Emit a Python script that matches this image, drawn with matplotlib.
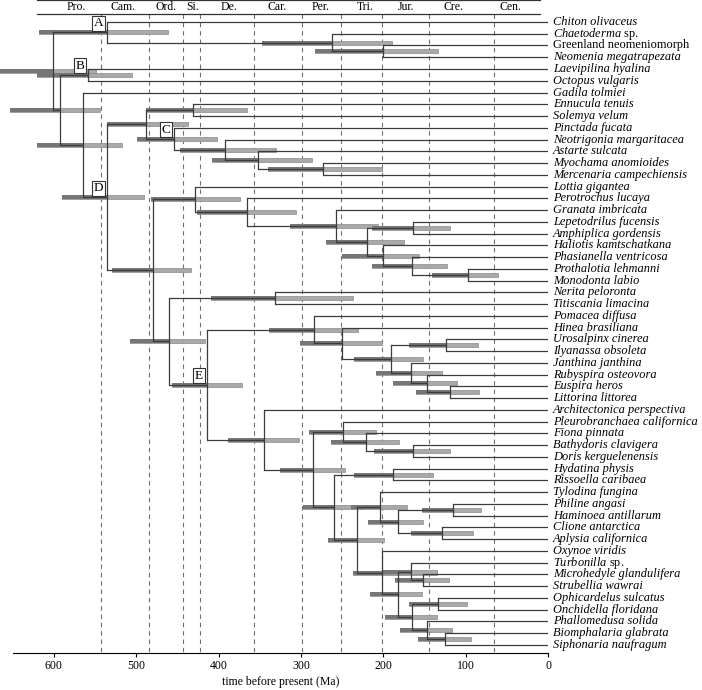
import matplotlib
matplotlib.use('Agg')
import matplotlib.pyplot as plt
from matplotlib.patches import Rectangle

plt.rcParams['font.family'] = ['Liberation Serif', 'DejaVu Serif']
plt.rcParams['mathtext.fontset'] = 'custom'
plt.rcParams['mathtext.it'] = 'Liberation Serif:italic'
plt.rcParams['mathtext.rm'] = 'Liberation Serif'

# tip labels, top to bottom
taxa = ['Chiton olivaceus', r'$\mathit{Chaetoderma}$ sp.', 'Greenland neomeniomorph',
        'Neomenia megatrapezata', 'Laevipilina hyalina', 'Octopus vulgaris', 'Gadila tolmiei',
        'Ennucula tenuis', 'Solemya velum', 'Pinctada fucata', 'Neotrigonia margaritacea',
        'Astarte sulcata', 'Myochama anomioides', 'Mercenaria campechiensis', 'Lottia gigantea',
        'Perotrochus lucaya', 'Granata imbricata', 'Lepetodrilus fucensis', 'Amphiplica gordensis',
        'Haliotis kamtschatkana', 'Phasianella ventricosa', 'Prothalotia lehmanni',
        'Monodonta labio', 'Nerita peloronta', 'Titiscania limacina', 'Pomacea diffusa',
        'Hinea brasiliana', 'Urosalpinx cinerea', 'Ilyanassa obsoleta', 'Janthina janthina',
        'Rubyspira osteovora', 'Euspira heros', 'Littorina littorea', 'Architectonica perspectiva',
        'Pleurobranchaea californica', 'Fiona pinnata', 'Bathydoris clavigera',
        'Doris kerguelenensis', 'Hydatina physis', 'Rissoella caribaea', 'Tylodina fungina',
        'Philine angasi', 'Haminoea antillarum', 'Clione antarctica', 'Aplysia californica',
        'Oxynoe viridis', r'$\mathit{Turbonilla}$ sp.', 'Microhedyle glandulifera',
        'Strubellia wawrai', 'Ophicardelus sulcatus', 'Onchidella floridana',
        'Phallomedusa solida', 'Biomphalaria glabrata', 'Siphonaria naufragum']
upright = ['Greenland neomeniomorph']

# internal nodes: children (int = tip index), age and 95% interval (Ma)
node_names = ['root', 'A', 'aplac', 'GN', 'conch', 'B', 'gad', 'D', 'biv', 'proto', 'C',
              'hetc', 'ast', 'myo', 'gast', 'lotvet', 'vet', 'gra', 'lephal', 'lepamp', 'hal',
              'pha', 'tro', 'neriapo', 'neri', 'E', 'caeno', 'hin', 'neo', 'nas', 'jan', 'rub',
              'eus', 'hetb', 'h469', 'pleu', 'nud', 'dor', 'h507', 'hyd', 'h540', 'tyl', 'h522',
              'phi', 'cli', 'h573', 'h594', 'tur', 'mic', 'h617', 'oph', 'pha2', 'bio']
node_children = [('A', 'conch'), (0, 'aplac'), (1, 'GN'), (2, 3), ('B', 'gad'), (4, 5),
                 (6, 'D'), ('biv', 'gast'), ('proto', 'C'), (7, 8), (9, 'hetc'), (10, 'ast'),
                 (11, 'myo'), (12, 13), ('lotvet', 'neriapo'), (14, 'vet'), (15, 'gra'),
                 (16, 'lephal'), ('lepamp', 'hal'), (17, 18), (19, 'pha'), (20, 'tro'), (21, 22),
                 ('neri', 'E'), (23, 24), ('caeno', 'hetb'), (25, 'hin'), (26, 'neo'),
                 ('nas', 'jan'), (27, 28), (29, 'rub'), (30, 'eus'), (31, 32), (33, 'h469'),
                 ('pleu', 'h507'), (34, 'nud'), (35, 'dor'), (36, 37), ('hyd', 'h540'), (38, 39),
                 ('tyl', 'h573'), (40, 'h522'), ('phi', 'cli'), (41, 42), (43, 44), (45, 'h594'),
                 ('tur', 'h617'), (46, 'mic'), (47, 48), ('oph', 'pha2'), (49, 50), (51, 'bio'),
                 (52, 53)]
node_age = [601, 536, 262, 200, 593, 558, 564, 536, 488, 431, 454, 392, 352, 273, 479, 428,
            366, 257, 220, 164, 200, 165, 97, 460, 331, 414, 284, 250, 191, 124, 166, 147, 119,
            345, 285, 249, 221, 164, 260, 188, 232, 204, 182, 115, 129, 201, 182, 166, 152, 165,
            133, 147, 125]
ci_old = [665, 618, 347, 283, 653, 620, 620, 590, 535, 488, 499, 447, 408, 340, 529, 482,
          426, 313, 269, 214, 250, 214, 141, 507, 409, 456, 339, 301, 235, 169, 209, 188, 160,
          388, 325, 290, 263, 211, 297, 235, 267, 239, 218, 153, 166, 237, 216, 200, 186, 198,
          169, 180, 158]
ci_young = [549, 461, 189, 133, 544, 505, 517, 491, 437, 365, 402, 330, 286, 201, 434, 374,
            306, 206, 175, 119, 157, 123, 61, 416, 237, 371, 231, 201, 152, 85, 129, 110, 84,
            302, 246, 209, 181, 119, 225, 140, 199, 171, 152, 81, 91, 135, 153, 135, 120, 135,
            98, 117, 93]
clade_marks = ['A', 'B', 'C', 'D', 'E']

periods = ['Pro.', 'Cam.', 'Ord.', 'Si.', 'De.', 'Car.', 'Per.', 'Tri.', 'Jur.', 'Cre.', 'Cen.']
period_mid = [573, 516, 464, 432, 387, 329, 276, 222, 172, 115, 45]
boundaries = [543, 485, 443, 423, 357, 299, 251, 201, 145, 66]

idx = {n: i for i, n in enumerate(node_names)}


def pos(c):
    if isinstance(c, int):
        return 0.0, float(c)
    i = idx[c]
    ys = [pos(k)[1] for k in node_children[i]]
    return node_age[i], (ys[0] + ys[-1]) / 2


fig = plt.figure(figsize=(7.02, 6.90), dpi=100)
ax = fig.add_axes([12.6 / 702, 37 / 690, (548 - 12.6) / 702, 653 / 690])
ax.set_xlim(650, 0)
y_top, y_bot = -1.87, 53.68
ax.set_ylim(y_bot, y_top)
band = -0.68

for b in boundaries:
    ax.plot([b, b], [band, y_bot], color='#707070', lw=0.8, ls=(0, (4, 3.5)), zorder=1)

bh = 0.34
for i, name in enumerate(node_names):
    x, y = pos(name)
    ax.add_patch(Rectangle((ci_young[i], y - bh / 2), ci_old[i] - ci_young[i], bh,
                           fc='#a9a9a9', ec='#8a8a8a', lw=0.5, zorder=2, clip_on=False))
    ax.add_patch(Rectangle((x, y - bh / 2), ci_old[i] - x, bh,
                           fc='#767676', ec='none', zorder=2, clip_on=False))
    ys = []
    for c in node_children[i]:
        cx, cy = pos(c)
        ys.append(cy)
        ax.plot([x, cx], [cy, cy], color='#3c3c3c', lw=0.9, zorder=3, solid_capstyle='butt')
    ax.plot([x, x], [min(ys), max(ys)], color='#3c3c3c', lw=0.9, zorder=3)
    if name in clade_marks:
        ax.annotate(name, (x, y), xytext=(-8, 9), textcoords='offset pixels',
                    ha='center', va='center', fontsize=9.5, zorder=5,
                    bbox=dict(boxstyle='square,pad=0.12', fc='white', ec='#333333', lw=0.8))

for i, t in enumerate(taxa):
    ax.annotate(t, (0, i), xytext=(5, 0), textcoords='offset pixels', ha='left',
                va='center', fontsize=8.9, annotation_clip=False,
                style='normal' if (t in upright or '$' in t) else 'italic')

# geological period band
for yy in (y_top + 0.03, band):
    ax.plot([620, 10], [yy, yy], color='#333333', lw=0.9, clip_on=False)
for p, m in zip(periods, period_mid):
    ax.text(m, (y_top + band) / 2, p, ha='center', va='center', fontsize=8.5)

for s in ['top', 'left', 'right']:
    ax.spines[s].set_visible(False)
ax.spines['bottom'].set_linewidth(0.8)
ax.set_yticks([])
ax.set_xticks([600, 500, 400, 300, 200, 100, 0])
ax.tick_params(axis='x', labelsize=8.5, length=3, width=0.8, pad=2)
ax.set_xlabel('time before present (Ma)', fontsize=8.5, labelpad=3)

fig.savefig('out.png', dpi=100)
